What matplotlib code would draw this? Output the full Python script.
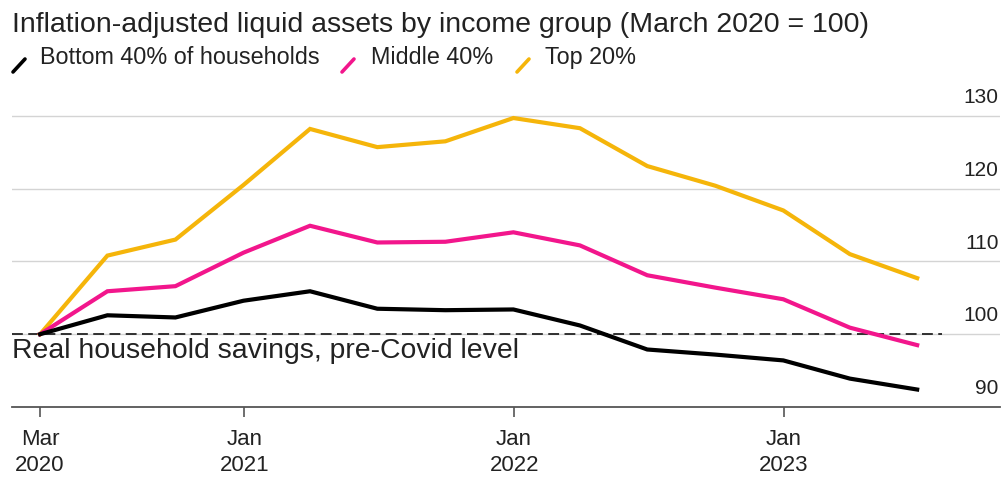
import matplotlib
matplotlib.use("Agg")
import matplotlib.pyplot as plt
from matplotlib.lines import Line2D
import pandas as pd

plt.rcParams['font.family'] = ['Liberation Sans', 'DejaVu Sans']

# quarter-end observations, Mar 2020 .. Jun 2023 (March 2020 = 100)
dates = pd.date_range('2020-03-31', periods=14, freq='QE')
bottom40 = [100, 102.6, 102.3, 104.6, 105.9, 103.5, 103.3, 103.4, 101.2, 97.9, 97.2, 96.4, 93.9, 92.4]
middle40 = [100, 105.9, 106.6, 111.2, 114.9, 112.6, 112.7, 114.0, 112.2, 108.1, 106.4, 104.8, 100.9, 98.5]
top20 = [100, 110.8, 113.0, 120.5, 128.2, 125.7, 126.5, 129.7, 128.3, 123.1, 120.4, 117.0, 111.0, 107.7]

series_names = ['Bottom 40% of households', 'Middle 40%', 'Top 20%']
colors = ['#000000', '#f2168c', '#f5b50a']
yticks = [90, 100, 110, 120, 130]
xtick_dates = pd.to_datetime(['2020-03-31', '2021-01-01', '2022-01-01', '2023-01-01'])
xtick_labels = ['Mar\n2020', 'Jan\n2021', 'Jan\n2022', 'Jan\n2023']

W, H = 1005, 481
fig = plt.figure(figsize=(W / 100, H / 100), dpi=100)
ax = fig.add_axes([12 / W, 1 - 408 / H, (1000 - 12) / W, (408 - 95) / H])

for vals, c in zip([top20, middle40, bottom40], colors[::-1]):
    ax.plot(dates, vals, color=c, lw=3.0, solid_joinstyle='miter', zorder=3)

ax.set_xlim(pd.Timestamp('2020-02-22'), pd.Timestamp('2023-10-20'))
ax.set_ylim(90, 133)

# gridlines + right-side labels sitting above each line
for v in yticks[1:]:
    ax.axhline(v, color='#d4d4d4', lw=1.0, zorder=1)
for v in yticks:
    ax.annotate(str(v), xy=(1.0, v), xycoords=ax.get_yaxis_transform(),
                xytext=(-1, 7), textcoords='offset points',
                ha='right', va='bottom', fontsize=15, color='#222222')

# pre-covid reference
ax.hlines(100, pd.Timestamp('2020-02-22'), pd.Timestamp('2023-08-03'),
          colors='#222222', linestyles=(0, (6, 3)), lw=1.3, zorder=2)
ax.text(pd.Timestamp('2020-02-22'), 100 - 0.45, 'Real household savings, pre-Covid level',
        fontsize=20.4, color='#222222', va='top', ha='left')

ax.set_yticks([])
for s in ['left', 'right', 'top']:
    ax.spines[s].set_visible(False)
ax.spines['bottom'].set_color('#555555')
ax.spines['bottom'].set_linewidth(1.3)
ax.set_xticks(xtick_dates)
ax.set_xticklabels(xtick_labels, fontsize=16, color='#222222', linespacing=1.3)
ax.tick_params(axis='x', length=7, width=1.2, color='#555555', pad=8)

# title and legend
fig.text(12 / W, 1 - 32 / H, 'Inflation-adjusted liquid assets by income group (March 2020 = 100)',
         fontsize=20.5, color='#222222', va='baseline', ha='left')
legend_x = [(13, 40), (342, 371), (517, 545)]
for (mx, tx), name, c in zip(legend_x, series_names, colors):
    fig.add_artist(Line2D([mx / W, (mx + 12) / W], [1 - 73 / H, 1 - 60 / H],
                          color=c, lw=2.6, solid_capstyle='round'))
    fig.text(tx / W, 1 - 64 / H, name, fontsize=16.8, color='#222222', va='baseline', ha='left')

fig.savefig('out.png', dpi=100)
